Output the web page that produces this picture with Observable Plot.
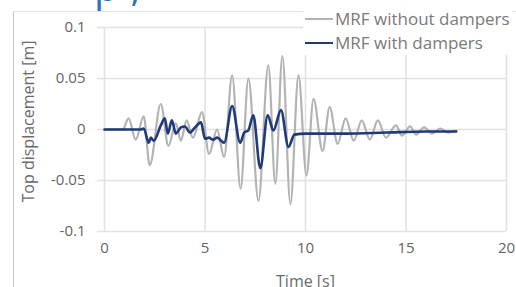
<!DOCTYPE html>
<html><head><meta charset="utf-8">
<script src="https://cdn.jsdelivr.net/npm/d3@7"></script>
<script src="https://cdn.jsdelivr.net/npm/@observablehq/plot@0.6"></script>
<style>
body{margin:0;background:#fff;}
#wrap{position:relative;width:516px;height:287px;overflow:hidden;font-family:"Open Sans",sans-serif;}
#frame{position:absolute;left:13px;top:11px;width:503px;height:276px;border-left:1.5px solid #c8c8c8;border-top:1px solid #e4e4e4;}
#head{position:absolute;left:94px;top:-34px;font-size:40px;letter-spacing:12px;color:#2f74c4;font-family:"Open Sans",sans-serif;line-height:40px;}
#legend{position:absolute;left:303px;top:7px;background:#fff;color:#7a7a7a;font-size:17px;line-height:24px;padding:0 2px;}
#legend .row{display:flex;align-items:center;white-space:nowrap;}
#legend .sw{display:inline-block;width:28px;height:0;margin-right:2px;}
</style></head>
<body>
<div id="wrap">
  <div id="frame"></div>
  <div id="head">p,</div>
  <div id="chart"></div>
  <div id="legend"></div>
</div>
<script>
const seriesNames = ["MRF without dampers", "MRF with dampers"];
const seriesColors = ["#b3b3b3", "#1f3a78"];
const xTicks = [0, 5, 10, 15, 20];
const yTicks = [-0.1, -0.05, 0, 0.05, 0.1];

const withoutT = [0,0.9,1.2,1.55,1.95,2.25,2.8,3.18,3.55,3.8,4.08,4.4,4.85,5.2,5.6,5.95,6.35,6.77,7.16,7.66,8.15,8.5,8.85,9.25,9.65,10.05,10.4,10.85,11.2,11.6,12.0,12.4,12.8,13.2,13.6,14.0,14.5,14.8,15.2,15.5,15.9,16.3,16.7,17.1,17.5];
const withoutV = [0,0,0.011,-0.010,0.013,-0.035,0.025,-0.016,0.006,-0.011,0.009,-0.008,0.017,-0.024,0.0,-0.027,0.053,-0.058,0.050,-0.070,0.063,-0.053,0.072,-0.073,0.053,-0.045,0.030,-0.021,0.022,-0.014,0.011,-0.011,0.009,-0.010,0.009,-0.008,0.004,-0.006,0.003,-0.005,0.002,-0.004,0.001,-0.003,-0.001];

const withT = [0,1.8,1.95,2.2,2.3,2.45,2.8,3.0,3.15,3.35,3.55,3.8,4.0,4.25,4.5,4.8,5.0,5.2,5.4,5.6,5.8,5.95,6.35,6.75,6.95,7.15,7.4,7.75,8.12,8.4,8.78,9.15,9.45,10,12,14,16,17.5];
const withV = [0,0,0.001,-0.013,-0.008,-0.011,0.004,0.011,-0.004,0.009,-0.004,0.002,0.003,-0.003,0.002,0.007,-0.009,-0.008,-0.010,-0.008,-0.011,-0.013,0.023,-0.013,-0.003,-0.001,0.014,-0.038,0.014,-0.001,0.019,-0.017,-0.005,-0.004,-0.004,-0.003,-0.002,-0.002];

const dWithout = withoutT.map((t,i)=>({t, v: withoutV[i]}));
const dWith = withT.map((t,i)=>({t, v: withV[i]}));

const chart = Plot.plot({
  width: 516, height: 287,
  marginLeft: 104, marginRight: 10, marginTop: 27, marginBottom: 56,
  style: {fontFamily: '"Open Sans", sans-serif', background: "transparent", overflow: "visible"},
  x: {domain: [0, 20]},
  y: {domain: [-0.1, 0.1]},
  marks: [
    Plot.gridX(xTicks, {stroke: "#e2e2e2", strokeOpacity: 1, strokeWidth: 1.6}),
    Plot.gridY(yTicks, {stroke: "#e2e2e2", strokeOpacity: 1, strokeWidth: 1.6}),
    Plot.axisY(yTicks, {tickSize: 7, stroke: "#e2e2e2", strokeOpacity: 1, strokeWidth: 1.6, tickPadding: 12, tickFormat: d => String(d), label: null, fontSize: 15, color: "#646464"}),
    Plot.axisX(xTicks, {tickSize: 0, tickPadding: 11, tickFormat: d => String(d), label: null, fontSize: 15, color: "#646464"}),
    Plot.line(dWithout, {x: "t", y: "v", stroke: seriesColors[0], strokeWidth: 2.2, curve: "monotone-x"}),
    Plot.line(dWith, {x: "t", y: "v", stroke: seriesColors[1], strokeWidth: 2.6, curve: "monotone-x"}),
    Plot.text(["Top displacement [m]"], {frameAnchor: "left", textAnchor: "middle", rotate: -90, dx: -76, dy: -8, fontSize: 16, fill: "#6a6a6a"}),
    Plot.text(["Time [s]"], {frameAnchor: "bottom", dy: 55, fontSize: 16, fill: "#6a6a6a"})
  ]
});
document.getElementById("chart").appendChild(chart);

const leg = document.getElementById("legend");
seriesNames.forEach((n,i)=>{
  const r = document.createElement("div"); r.className = "row";
  const s = document.createElement("span"); s.className = "sw";
  s.style.borderTop = (i===0?"2px":"2.5px") + " solid " + seriesColors[i];
  r.appendChild(s);
  const tx = document.createElement("span"); tx.textContent = n; r.appendChild(tx);
  leg.appendChild(r);
});
</script>
</body></html>
